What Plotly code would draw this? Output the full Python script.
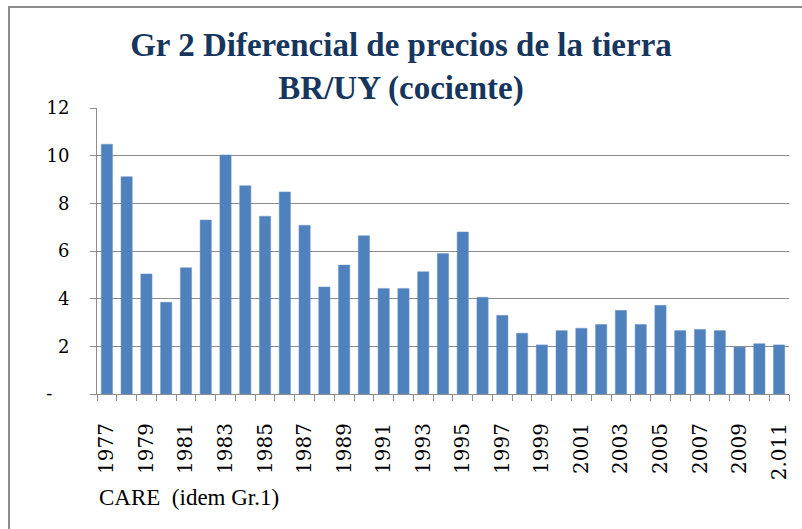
import plotly.graph_objects as go

years = list(range(1977, 2012))
values = [10.48, 9.12, 5.04, 3.85, 5.30, 7.30, 10.03, 8.74, 7.46, 8.48,
          7.08, 4.49, 5.41, 6.64, 4.43, 4.43, 5.13, 5.89, 6.80, 4.06,
          3.30, 2.55, 2.06, 2.66, 2.76, 2.92, 3.51, 2.92, 3.72, 2.66,
          2.71, 2.66, 1.97, 2.11, 2.06]
x_tick_vals = list(range(1977, 2012, 2))
x_tick_text = [str(y) for y in x_tick_vals[:-1]] + ["2.011"]
y_tick_vals = [0, 2, 4, 6, 8, 10, 12]
y_tick_text = ["-\u00a0\u00a0\u00a0", "2", "4", "6", "8", "10", "12"]
title_text = "Gr 2 Diferencial de precios de la tierra<br>BR/UY (cociente)"
source_text = "CARE  (idem Gr.1)"

W, H = 802, 529
L, R, T, B = 97, 13, 108, 135

fig = go.Figure()
fig.add_trace(go.Bar(
    x=years, y=values,
    marker=dict(color="#4F81BD", line=dict(color="#6C94C8", width=0.5)),
    width=0.57,
))

serif = "DejaVu Serif"
fig.update_layout(
    width=W, height=H,
    margin=dict(l=L, r=R, t=T, b=B, autoexpand=False),
    paper_bgcolor="white", plot_bgcolor="white",
    showlegend=False,
    title=dict(text=title_text, x=0.5, xanchor="center", y=1 - 56 / H, yanchor="middle",
               font=dict(family="Liberation Serif", size=33, color="#17365D", weight="bold")),
    font=dict(family=serif, color="black"),
)
fig.update_xaxes(
    range=[1976.5, 2011.5],
    tickmode="array", tickvals=x_tick_vals, ticktext=x_tick_text,
    tickangle=-90, ticks="outside", ticklen=20, tickcolor="rgba(0,0,0,0)",
    tickfont=dict(family=serif, size=20, color="black"),
    showline=True, linecolor="#8C8C8C", linewidth=1,
    showgrid=False, zeroline=False,
    minor=dict(tickmode="array", tickvals=[y - 0.5 for y in years] + [2011.5],
               ticks="outside", ticklen=6, tickcolor="#8C8C8C", showgrid=False),
)
fig.update_yaxes(
    range=[0, 12],
    tickmode="array", tickvals=y_tick_vals, ticktext=y_tick_text,
    ticks="outside", ticklen=6, tickcolor="#8C8C8C",
    ticklabelstandoff=17,
    tickfont=dict(family=serif, size=18, color="black"),
    showline=True, linecolor="#8C8C8C", linewidth=1,
    showgrid=True, gridcolor="#8C8C8C", gridwidth=1, zeroline=False,
)
fig.add_annotation(
    text=source_text, xref="paper", yref="paper",
    x=0, y=-(497 - (H - B)) / (H - T - B), xanchor="left", yanchor="middle",
    showarrow=False, font=dict(family="Liberation Serif", size=23, color="black"),
)
# outer chart border (left and top visible)
fig.add_shape(type="rect", xref="paper", yref="paper",
              x0=(9 - L) / (W - L - R), x1=(W + 20 - L) / (W - L - R),
              y0=-(H + 20 - (H - B)) / (H - T - B), y1=(H - 7 - B) / (H - T - B),
              line=dict(color="#8C8C8C", width=2), layer="below")

fig.write_html("out.html", config={"displayModeBar": False},
               post_script="document.body.style.margin='0';document.body.style.padding='0';")
